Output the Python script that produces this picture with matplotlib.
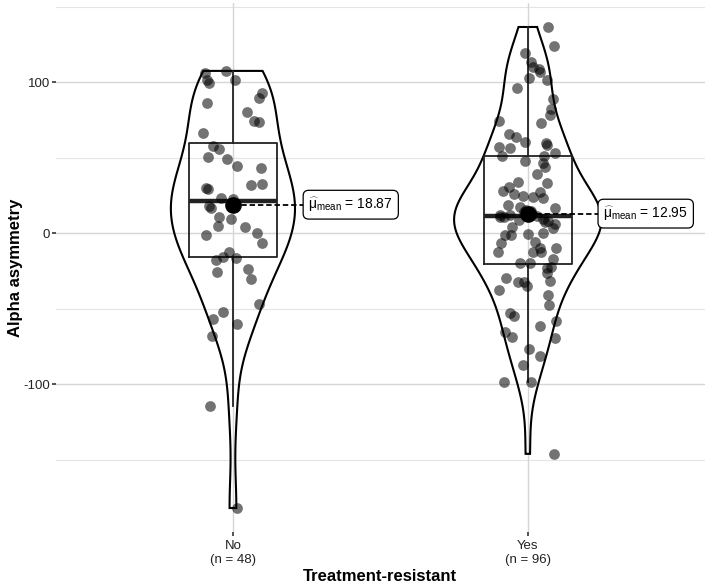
import numpy as np
import matplotlib.pyplot as plt

plt.rcParams['font.family'] = ['Liberation Sans', 'DejaVu Sans']
plt.rcParams['mathtext.fontset'] = 'custom'
plt.rcParams['mathtext.rm'] = 'Liberation Sans'
plt.rcParams['mathtext.it'] = 'Liberation Sans'
plt.rcParams['mathtext.bf'] = 'Liberation Sans:bold'

# DATA
groups = ["No", "Yes"]

no_values = [106.4, 107.5, 101.5, 99.5, 101.5, 93.1, 89.8, 86.5, 80.1, 74.6,
             73.7, 66.6, 57.8, 55.6, 50.3, 49.2, 44.6, 43.4, 30.0, 29.3,
             32.0, 32.6, 23.2, 18.1, 16.8, 11.0, 9.7, 4.8, 4.4, -1.0,
             0.4, -6.4, -12.2, -15.9, -17.7, -16.2, -25.8, -23.8, -30.6, -47.0,
             -51.9, -56.9, -60.4, -67.8, -114.5, -182.1, 22.5, 19.5]
no_jitter = [-0.095, -0.024, -0.088, -0.080, 0.007, 0.097, 0.088, -0.089, 0.046, 0.071,
             0.088, -0.101, -0.067, -0.046, -0.084, -0.021, 0.015, 0.095, -0.093, -0.085,
             0.060, 0.097, -0.042, -0.081, -0.075, -0.046, -0.007, -0.050, 0.042, -0.093,
             0.080, 0.099, -0.013, -0.033, -0.059, 0.010, -0.053, 0.052, 0.060, 0.088,
             -0.035, -0.069, 0.013, -0.070, -0.078, 0.013, 0.000, 0.005]

yes_values = [136.6, 124.2, 119.4, 113.6, 110.3, 108.8, 106.6, 103.0, 101.3, 96.2,
              88.9, 82.1, 78.3, 74.4, 73.0, 65.6, 64.0, 60.7, 60.0, 58.5,
              57.0, 56.7, 53.0, 51.2, 51.2, 47.9, 46.4, 44.1, 39.3, 33.8,
              33.1, 30.5, 28.2, 26.0, 27.5, 23.2, 24.7, 24.2, 18.7, 17.2,
              16.6, 11.0, 12.1, 7.7, 6.2, 3.3, 4.4, -1.1, -1.1, -0.5,
              0.4, -6.6, -5.6, -9.9, -12.2, -9.9, -12.6, -12.6, -19.5, -19.5,
              -17.2, -22.1, -23.2, -29.8, -32.1, -32.1, -34.9, -26.5, -31.4, -37.5,
              -40.9, -47.5, -53.0, -55.2, -58.5, -61.4, -65.6, -68.9, -69.2, -76.6,
              -81.7, -87.3, -98.3, -98.3, -146.2,
              15.5, 14.5, 13.8, 13.0, 12.5, 11.8, 11.2, 10.5, 9.5, 8.5, 7.8]
yes_jitter = [0.070, 0.088, -0.008, 0.012, 0.017, 0.037, 0.042, 0.003, 0.064, -0.037,
              0.085, 0.079, 0.074, -0.098, 0.045, -0.065, -0.039, -0.008, 0.062, 0.066,
              -0.098, -0.060, 0.091, 0.054, -0.088, -0.010, 0.051, 0.057, 0.032, -0.034,
              0.064, -0.065, -0.085, -0.047, 0.042, 0.051, -0.015, 0.017, -0.068, -0.028,
              0.091, -0.096, -0.062, 0.057, 0.091, 0.085, -0.054, -0.076, -0.056, 0.002,
              0.051, -0.090, 0.023, 0.040, 0.045, 0.094, -0.102, 0.017, -0.028, 0.009,
              0.085, 0.079, 0.064, -0.073, -0.032, -0.014, -0.003, 0.066, 0.074, -0.099,
              0.070, 0.071, -0.060, -0.048, 0.096, 0.043, -0.079, -0.053, 0.092, 0.003,
              0.042, -0.017, -0.082, 0.012, 0.088,
              -0.005, 0.010, -0.012, 0.015, 0.000, -0.095, 0.032, -0.080, 0.050, -0.030, 0.070]

values = [np.array(no_values), np.array(yes_values)]
jitters = [np.array(no_jitter), np.array(yes_jitter)]
positions = [1, 2]


# gaussian kernel density like R's density() with bw.nrd0
def bw_nrd0(x):
    sd = np.std(x, ddof=1)
    q75, q25 = np.percentile(x, [75, 25])
    return 0.9 * min(sd, (q75 - q25) / 1.34) * len(x) ** -0.2


def kde(x, grid):
    h = bw_nrd0(x)
    z = (grid[:, None] - x[None, :]) / h
    return np.exp(-0.5 * z ** 2).sum(axis=1) / (len(x) * h * np.sqrt(2 * np.pi))


grids = [np.linspace(v.min(), v.max(), 512) for v in values]
dens = [kde(v, g) for v, g in zip(values, grids)]
max_dens = max(d.max() for d in dens)

fig, ax = plt.subplots(figsize=(7.09, 5.86), dpi=100)
fig.subplots_adjust(left=0.079, right=0.994, bottom=0.092, top=0.995)

# grid
ax.set_axisbelow(True)
for y in [-150, -50, 50, 150]:
    ax.axhline(y, color="#e4e4e4", lw=0.8, zorder=0)
for y in [-100, 0, 100]:
    ax.axhline(y, color="#d6d6d6", lw=1.0, zorder=0)
for x in positions:
    ax.axvline(x, color="#d6d6d6", lw=1.0, zorder=0)

# violins
for pos, g, d in zip(positions, grids, dens):
    half = 0.25 * d / max_dens
    xs = np.concatenate([pos - half, (pos + half)[::-1]])
    ys = np.concatenate([g, g[::-1]])
    ax.fill(xs, ys, facecolor="none", edgecolor="black", lw=1.5, zorder=2)

# boxplots
ax.boxplot(values, positions=positions, widths=0.3, whis=1.5,
           showfliers=False, showcaps=False, patch_artist=False,
           boxprops=dict(color="#222222", lw=1.3),
           whiskerprops=dict(color="#222222", lw=1.3),
           medianprops=dict(color="#222222", lw=3.2),
           zorder=3)

# jittered points
for pos, v, j in zip(positions, values, jitters):
    ax.scatter(pos + j, v, s=60, color="black", alpha=0.55, lw=0, zorder=4)

# means with labels
for pos, v in zip(positions, values):
    m = v.mean()
    ax.plot([pos, pos + 0.24], [m, m], color="black", lw=1.3,
            ls=(0, (3, 1.6)), zorder=5)
    ax.scatter(pos, m, s=120, color="black", zorder=6)
    ax.text(pos + 0.256, m, r"$\widehat{\mu}_{\mathrm{mean}}$ = " + f"{m:.2f}",
            ha="left", va="center", fontsize=10, zorder=7,
            bbox=dict(boxstyle="round,pad=0.38,rounding_size=0.4",
                      facecolor="white", edgecolor="black", lw=0.9))

# axes
lo = min(v.min() for v in values)
hi = max(v.max() for v in values)
pad = 0.05 * (hi - lo)
ax.set_ylim(lo - pad, hi + pad)
ax.set_xlim(0.4, 2.6)
ax.set_yticks([-100, 0, 100])
ax.set_yticklabels(["-100", "0", "100"])
ax.set_xticks(positions)
ax.set_xticklabels([f"{g}\n(n = {len(v)})" for g, v in zip(groups, values)])
ax.tick_params(axis="both", length=3, width=1.2, color="#333333",
               labelsize=9.5, labelcolor="#222222")
ax.tick_params(axis="y", pad=1.5)
ax.tick_params(axis="x", pad=3)
for s in ax.spines.values():
    s.set_visible(False)

ax.set_xlabel("Treatment-resistant", fontsize=12, fontweight="bold", labelpad=2)
ax.set_ylabel("Alpha asymmetry", fontsize=12, fontweight="bold", labelpad=0)

plt.savefig("out.png", dpi=100)
